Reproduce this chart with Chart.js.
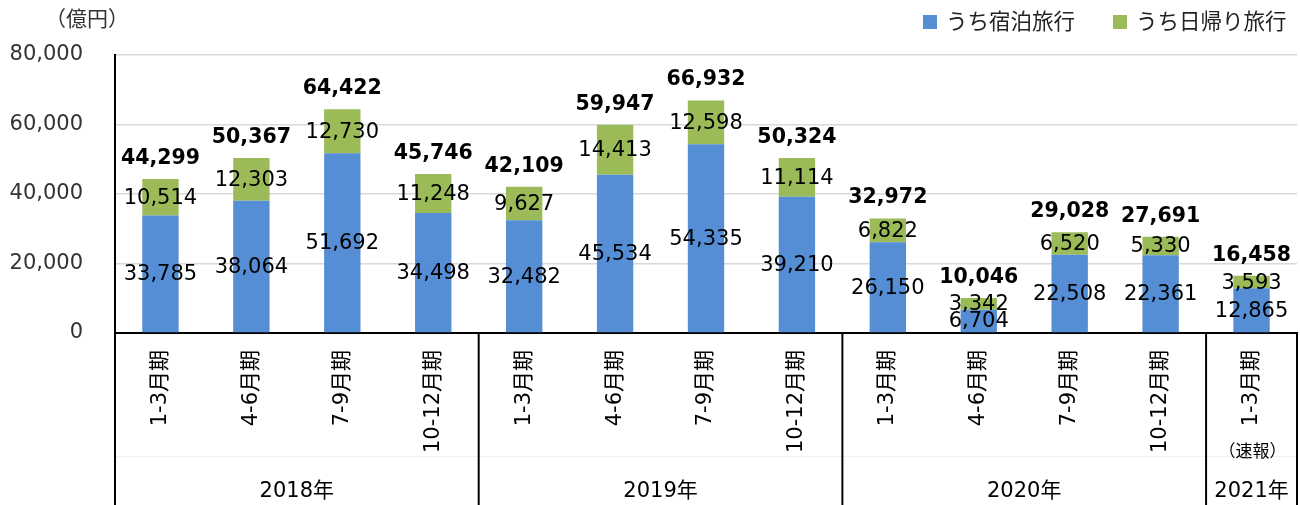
<!DOCTYPE html>
<html>
<head>
<meta charset="utf-8">
<script src="https://cdn.jsdelivr.net/npm/chart.js@4"></script>
<style>
  html, body { margin: 0; padding: 0; background: #fff; }
  #wrap { width: 1300px; height: 505px; }
</style>
</head>
<body>
<div id="wrap"><canvas id="barChart"></canvas></div>
<script>
var categories = ["1-3月期", "4-6月期", "7-9月期", "10-12月期",
  "1-3月期", "4-6月期", "7-9月期", "10-12月期",
  "1-3月期", "4-6月期", "7-9月期", "10-12月期",
  "1-3月期"];
var stayTrips = [33785, 38064, 51692, 34498, 32482, 45534, 54335, 39210, 26150, 6704, 22508, 22361, 12865];
var dayTrips = [10514, 12303, 12730, 11248, 9627, 14413, 12598, 11114, 6822, 3342, 6520, 5330, 3593];
var totals = [44299, 50367, 64422, 45746, 42109, 59947, 66932, 50324, 32972, 10046, 29028, 27691, 16458];
var yearLabels = ["2018年", "2019年", "2020年", "2021年"];
var yearSizes = [4, 4, 4, 1];
var yTicks = [0, 20000, 40000, 60000, 80000];

var FONT = '"DejaVu Sans", "Noto Sans CJK JP", sans-serif';
var fmt = function (v) { return v.toLocaleString("en-US"); };

var overlay = {
  id: "overlay",
  afterDatasetsDraw: function (chart) {
    var ctx = chart.ctx;
    ctx.save();
    ctx.fillStyle = "#000";
    ctx.textAlign = "center";
    ctx.textBaseline = "middle";
    ctx.font = "21px " + FONT;
    chart.data.datasets.forEach(function (ds, i) {
      chart.getDatasetMeta(i).data.forEach(function (bar, j) {
        ctx.fillText(fmt(ds.data[j]), bar.x, (bar.y + bar.base) / 2 + 1);
      });
    });
    ctx.font = "bold 20.5px " + FONT;
    ctx.textBaseline = "alphabetic";
    chart.getDatasetMeta(1).data.forEach(function (bar, j) {
      ctx.fillText(fmt(totals[j]), bar.x, bar.y - 15);
    });
    ctx.restore();
  },
  afterDraw: function (chart) {
    var ctx = chart.ctx;
    var area = chart.chartArea;
    var xs = chart.scales.x;
    var step = xs.getPixelForValue(1) - xs.getPixelForValue(0);
    var bottom = chart.height;
    ctx.save();

    // faint line between quarter and year rows
    ctx.strokeStyle = "#f0f0f0";
    ctx.lineWidth = 1;
    ctx.beginPath();
    ctx.moveTo(area.left, 456.5);
    ctx.lineTo(area.right, 456.5);
    ctx.stroke();

    // year group separators and labels
    ctx.strokeStyle = "#000";
    ctx.lineWidth = 2;
    ctx.fillStyle = "#000";
    ctx.font = "21px " + FONT;
    ctx.textAlign = "center";
    ctx.textBaseline = "middle";
    var start = 0;
    yearSizes.forEach(function (n, g) {
      var x0 = xs.getPixelForValue(start) - step / 2;
      var x1 = xs.getPixelForValue(start + n - 1) + step / 2;
      ctx.beginPath();
      ctx.moveTo(x0, area.bottom);
      ctx.lineTo(x0, bottom);
      ctx.stroke();
      ctx.fillText(yearLabels[g], (x0 + x1) / 2, 492);
      start += n;
    });
    ctx.beginPath();
    ctx.moveTo(area.right, area.bottom);
    ctx.lineTo(area.right, bottom);
    ctx.stroke();

    // preliminary note under the last quarter
    ctx.font = "17px " + FONT;
    ctx.fillText("（速報）", xs.getPixelForValue(categories.length - 1) + 1, 453);

    // unit
    ctx.font = "21px " + FONT;
    ctx.fillStyle = "#333";
    ctx.fillText("（億円）", 87, 21);

    // legend
    ctx.textAlign = "left";
    ctx.fillStyle = chart.data.datasets[0].backgroundColor;
    ctx.fillRect(923, 15, 14, 14);
    ctx.fillStyle = chart.data.datasets[1].backgroundColor;
    ctx.fillRect(1113, 15, 14, 14);
    ctx.fillStyle = "#222";
    ctx.font = "21.5px " + FONT;
    ctx.fillText(chart.data.datasets[0].label, 946, 23);
    ctx.fillText(chart.data.datasets[1].label, 1136, 23);
    ctx.restore();
  }
};

var ctx = document.getElementById("barChart").getContext("2d");
var myChart = new Chart(ctx, {
  type: "bar",
  data: {
    labels: categories,
    datasets: [
      {
        label: "うち宿泊旅行",
        data: stayTrips,
        backgroundColor: "#558ed5",
        barPercentage: 0.4,
        categoryPercentage: 1,
      },
      {
        label: "うち日帰り旅行",
        data: dayTrips,
        backgroundColor: "#9bbb59",
        barPercentage: 0.4,
        categoryPercentage: 1,
      },
    ],
  },
  options: {
    responsive: true,
    maintainAspectRatio: false,
    animation: false,
    layout: { padding: { top: 55, right: 3, bottom: 0, left: 0 } },
    plugins: {
      legend: { display: false },
      tooltip: { enabled: false },
    },
    scales: {
      x: {
        stacked: true,
        grid: { display: false, drawTicks: false },
        border: { display: true, color: "#000", width: 2 },
        ticks: {
          autoSkip: false,
          minRotation: 90,
          maxRotation: 90,
          padding: 17,
          color: "#000",
          font: { size: 21, family: FONT },
        },
        afterFit: function (scale) { scale.height = 172; },
      },
      y: {
        stacked: true,
        min: 0,
        max: 80000,
        afterBuildTicks: function (scale) {
          scale.ticks = yTicks.map(function (v) { return { value: v }; });
        },
        grid: { color: "#d9d9d9", lineWidth: 1.5, drawTicks: false },
        border: { display: true, color: "#000", width: 2 },
        ticks: {
          padding: 32,
          color: "#333",
          font: { size: 21, family: FONT },
          callback: function (v) { return fmt(v); },
        },
        afterFit: function (scale) { scale.width = 115; },
      },
    },
  },
  plugins: [overlay],
});
</script>
</body>
</html>
